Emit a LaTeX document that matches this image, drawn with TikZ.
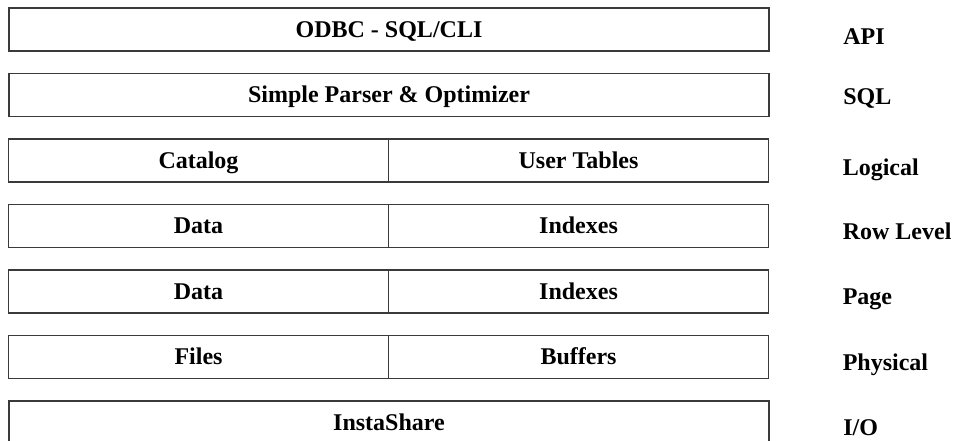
\documentclass[tikz,border=0pt]{standalone}
\usepackage{fontspec}
\setmainfont{Liberation Serif}
\usetikzlibrary{positioning}
\definecolor{LayerLine}{HTML}{3A3A3A}
\tikzset{every node/.style={font=\fontsize{18}{21}\selectfont\bfseries},
 layer/.style={draw=LayerLine,line width=.9pt,inner sep=0pt,outer sep=0pt,
 minimum width=570pt,minimum height=32.25pt,text height=11.9pt,text depth=0pt},
 half/.style={layer,minimum width=285pt},
 tag/.style={anchor=west,inner sep=0pt,text height=11.9pt,text depth=0pt}}

\begin{document}
\begin{tikzpicture}[x=.75pt,y=-.75pt]
\clip (0,0) rectangle (962,440);
\useasboundingbox (0,0) rectangle (962,440);
% full-width layers
\node[layer] (api) at (389,29.5) {ODBC - SQL/CLI};
\node[layer] (sql) at (389,95) {Simple Parser \& Optimizer};
\node[layer] (io) at (389,422.5) {InstaShare};
% split layers
\foreach \y/\nm/\lft/\rgt in {160.5/log/Catalog/User Tables,226/row/Data/Indexes,
 291.5/pg/Data/Indexes,357/phy/Files/Buffers}
 {\node[half] (\nm l) at (198.5,\y) {\lft};
  \node[half,right=0pt of \nm l] (\nm r) {\rgt};}
% level names
\foreach \nm/\lab/\dy in {api/API/-5.5pt,sql/SQL/-1pt,logr/Logical/-5pt,
 rowr/Row Level/-4pt,pgr/Page/-4pt,phyr/Physical/-4pt,io/{I/O}/-3.5pt}
 {\node[tag] at ([xshift=55.5pt,yshift=\dy]\nm.east) {\lab};}
\end{tikzpicture}
\end{document}
